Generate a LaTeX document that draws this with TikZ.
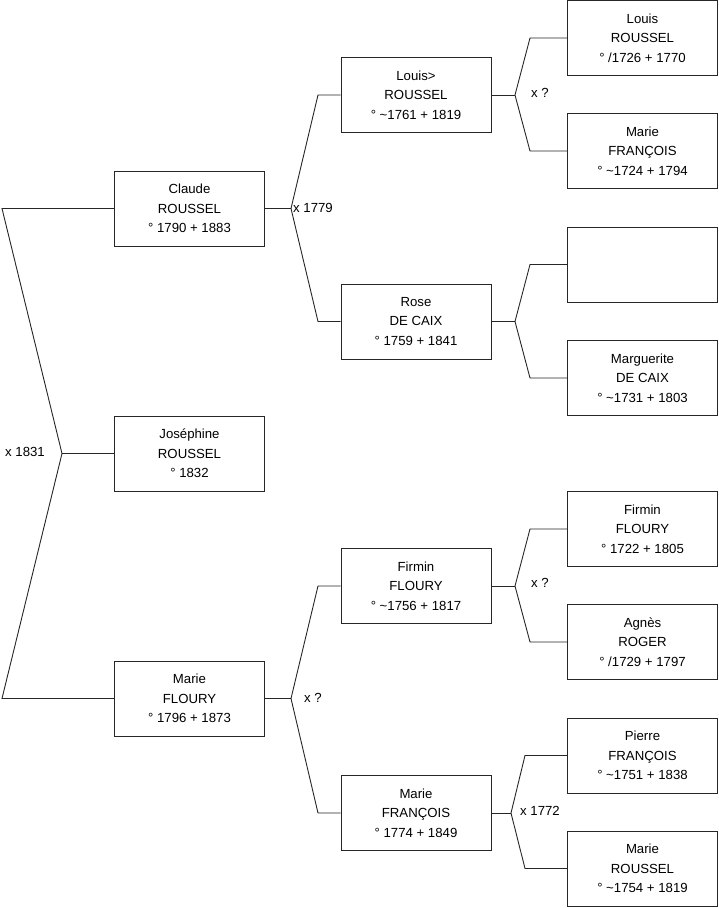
\documentclass[tikz,border=0pt]{standalone}
\usepackage{fontspec}
\setmainfont{Liberation Sans}
\begin{document}
\begin{tikzpicture}[x=1pt,y=-1pt,
  person/.style={draw=black!85,line width=0.9pt,fill=white,minimum width=150pt,minimum height=75pt,inner sep=0pt,align=center,font=\fontsize{13.2}{19.5}\selectfont},
  link/.style={draw=black!85,line width=0.9pt},
  lab/.style={font=\fontsize{13.2}{15}\selectfont,inner sep=0pt}]
\useasboundingbox (0,0) rectangle (719,908);
% generation 1
\node[person] (c1) at (189.5,208.5) {Claude\\ROUSSEL\\° 1790 + 1883};
\node[person] (c2) at (189.5,453.5) {Joséphine\\ROUSSEL\\° 1832};
\node[person] (c3) at (189.5,698.5) {Marie\\FLOURY\\° 1796 + 1873};
% generation 2
\node[person] (g1) at (416,95) {Louis>\\ROUSSEL\\° \textasciitilde1761 + 1819};
\node[person] (g2) at (416,321.5) {Rose\\DE CAIX\\° 1759 + 1841};
\node[person] (g3) at (416,586) {Firmin\\FLOURY\\° \textasciitilde1756 + 1817};
\node[person] (g4) at (416,813) {Marie\\FRANÇOIS\\° 1774 + 1849};
% generation 3
\node[person] (a1) at (642.5,38) {Louis\\ROUSSEL\\° /1726 + 1770};
\node[person] (a2) at (642.5,151) {Marie\\FRANÇOIS\\° \textasciitilde1724 + 1794};
\node[person] (a3) at (642.5,264.5) {};
\node[person] (a4) at (642.5,378) {Marguerite\\DE CAIX\\° \textasciitilde1731 + 1803};
\node[person] (a5) at (642.5,529) {Firmin\\FLOURY\\° 1722 + 1805};
\node[person] (a6) at (642.5,642) {Agnès\\ROGER\\° /1729 + 1797};
\node[person] (a7) at (642.5,755.5) {Pierre\\FRANÇOIS\\° \textasciitilde1751 + 1838};
\node[person] (a8) at (642.5,868.5) {Marie\\ROUSSEL\\° \textasciitilde1754 + 1819};
% junction coordinates
\coordinate (r1) at (2,208.5);
\coordinate (rv) at (62,453.5);
\coordinate (r3) at (2,698.5);
\coordinate (v1) at (291,208.5);
\coordinate (v1a) at (318,95);
\coordinate (v1b) at (318,321.5);
\coordinate (v3) at (291,698.5);
\coordinate (v3a) at (318,586);
\coordinate (v3b) at (318,813);
\coordinate (w1) at (515,95);
\coordinate (w1a) at (530,38);
\coordinate (w1b) at (530,151);
\coordinate (w2) at (515,321.5);
\coordinate (w2a) at (530,264.5);
\coordinate (w2b) at (530,378);
\coordinate (w3) at (515,586);
\coordinate (w3a) at (530,529);
\coordinate (w3b) at (530,642);
\coordinate (w4) at (511,813);
\coordinate (w4a) at (525,755.5);
\coordinate (w4b) at (525,868.5);
% connectors
\draw[link] (c1.west) -- (r1) -- (rv) -- (r3) -- (c3.west);
\draw[link] (rv) -- (c2.west);
\draw[link] (c1.east) -- (v1);
\draw[link] (g1.west) -- (v1a) -- (v1) -- (v1b) -- (g2.west);
\draw[link] (c3.east) -- (v3);
\draw[link] (g3.west) -- (v3a) -- (v3) -- (v3b) -- (g4.west);
\draw[link] (g1.east) -- (w1);
\draw[link] (a1.west) -- (w1a) -- (w1) -- (w1b) -- (a2.west);
\draw[link] (g2.east) -- (w2);
\draw[link] (a3.west) -- (w2a) -- (w2) -- (w2b) -- (a4.west);
\draw[link] (g3.east) -- (w3);
\draw[link] (a5.west) -- (w3a) -- (w3) -- (w3b) -- (a6.west);
\draw[link] (g4.east) -- (w4);
\draw[link] (a7.west) -- (w4a) -- (w4) -- (w4b) -- (a8.west);
% marriage labels
\node[lab,anchor=west] (m0) at (5,452) {x 1831};
\node[lab,anchor=west] (m1) at (293,207.5) {x 1779};
\node[lab,anchor=west] (m2) at (531,93) {x ?};
\node[lab,anchor=west] (m3) at (304,698) {x ?};
\node[lab,anchor=west] (m4) at (531,583) {x ?};
\node[lab,anchor=west] (m5) at (520,811) {x 1772};
\end{tikzpicture}
\end{document}
